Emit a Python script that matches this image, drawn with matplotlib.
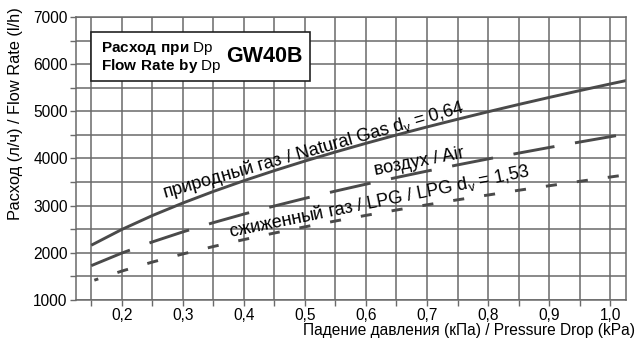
import matplotlib
matplotlib.use("Agg")
import matplotlib.pyplot as plt
import numpy as np
from matplotlib.patches import Rectangle

plt.rcParams['font.family'] = ['Liberation Sans', 'DejaVu Sans']
plt.rcParams['mathtext.fontset'] = 'custom'
plt.rcParams['mathtext.rm'] = 'Liberation Sans'
plt.rcParams['mathtext.bf'] = 'Liberation Sans:bold'
plt.rcParams['mathtext.default'] = 'regular'
plt.rcParams['lines.scale_dashes'] = False

# Data
dp = [0.15, 0.2, 0.25, 0.3, 0.35, 0.4, 0.45, 0.5, 0.55, 0.6, 0.65, 0.7,
      0.75, 0.8, 0.85, 0.9, 0.95, 1.0, 1.03]
natural_gas = [2161, 2495, 2790, 3056, 3301, 3529, 3743, 3946, 4138, 4322,
               4499, 4669, 4832, 4991, 5145, 5294, 5439, 5580, 5663]
air = [1728, 1995, 2231, 2444, 2640, 2822, 2993, 3155, 3309, 3456,
       3597, 3733, 3864, 3991, 4114, 4233, 4349, 4462, 4529]
lpg_dp = [0.155, 0.2, 0.25, 0.3, 0.35, 0.4, 0.45, 0.5, 0.55, 0.6, 0.65, 0.7,
          0.75, 0.8, 0.85, 0.9, 0.95, 1.0, 1.03]
lpg = [1420, 1613, 1804, 1976, 2134, 2281, 2420, 2551, 2675, 2794,
       2908, 3018, 3124, 3226, 3326, 3422, 3516, 3607, 3661]

xticks = [0.2, 0.3, 0.4, 0.5, 0.6, 0.7, 0.8, 0.9, 1.0]
xticklabels = ['0,2', '0,3', '0,4', '0,5', '0,6', '0,7', '0,8', '0,9', '1,0']
yticks = [1000, 2000, 3000, 4000, 5000, 6000, 7000]

W, H = 640, 343
fig = plt.figure(figsize=(6.4, 3.43), dpi=100)
ax = fig.add_axes([76 / W, 1 - 300 / H, (626 - 76) / W, (300 - 17) / H])

ax.set_xlim(0.125, 1.026)
ax.set_ylim(1000, 7000)

grid_c = '#6a6a6a'
ax.set_xticks(np.arange(0.15, 1.026, 0.05), minor=True)
ax.set_yticks(np.arange(1500, 7000, 1000), minor=True)
ax.set_xticks(xticks)
ax.set_xticklabels(xticklabels, fontsize=11.2)
ax.set_yticks(yticks)
ax.set_yticklabels([str(v) for v in yticks], fontsize=11.2)
ax.grid(True, which='both', color=grid_c, linewidth=1.1)
ax.set_axisbelow(True)
ax.tick_params(which='both', direction='out', length=4, width=1, color=grid_c, pad=2)
for s in ax.spines.values():
    s.set_color(grid_c)
    s.set_linewidth(1.1)

line_c = '#4a4a4a'
lw = 2.1
ax.plot(dp, natural_gas, color=line_c, lw=lw, solid_capstyle='butt')
ax.plot(dp, air, color=line_c, lw=lw, linestyle=(0, (30, 15)), dash_capstyle='butt')
ax.plot(lpg_dp, lpg, color=line_c, lw=lw, linestyle=(5, (8, 14.5)), dash_capstyle='butt')

def fig_px_text(x, y, s, **kw):
    return fig.text(x / W, 1 - y / H, s, **kw)

# Curve labels
fig_px_text(164, 198, 'природный газ / Natural Gas d$_{v}$ = 0,64', fontsize=13,
            rotation=16, rotation_mode='anchor', ha='left', va='baseline')
fig_px_text(375, 175, 'воздух / Air', fontsize=13,
            rotation=11, rotation_mode='anchor', ha='left', va='baseline')
fig_px_text(230, 237, 'сжиженный газ / LPG / LPG d$_{v}$ = 1,53', fontsize=13,
            rotation=11.5, rotation_mode='anchor', ha='left', va='baseline')

# Title box
box = Rectangle((91 / W, 1 - 81 / H), (310 - 91) / W, (81 - 32) / H,
                transform=fig.transFigure, facecolor='white', edgecolor='#222222',
                linewidth=1.2, zorder=5)
fig.add_artist(box)
fig_px_text(101, 52, r'$\mathbf{Расход\ при}$ Dp', fontsize=11, zorder=6,
            ha='left', va='baseline')
fig_px_text(101, 70, r'$\mathbf{Flow\ Rate\ by}$ Dp', fontsize=11, zorder=6,
            ha='left', va='baseline')
fig_px_text(226, 62, 'GW40B', fontsize=15.5, fontweight='bold', zorder=6,
            ha='left', va='baseline')

# Axis labels
fig_px_text(16, 114, 'Расход (л/ч) / Flow Rate (l/h)', fontsize=11.8, rotation=90,
            ha='center', va='center')
fig_px_text(635, 335, 'Падение давления (кПа) / Pressure Drop (kPa)', fontsize=11.2,
            ha='right', va='baseline')

fig.savefig('out.png', dpi=100)
